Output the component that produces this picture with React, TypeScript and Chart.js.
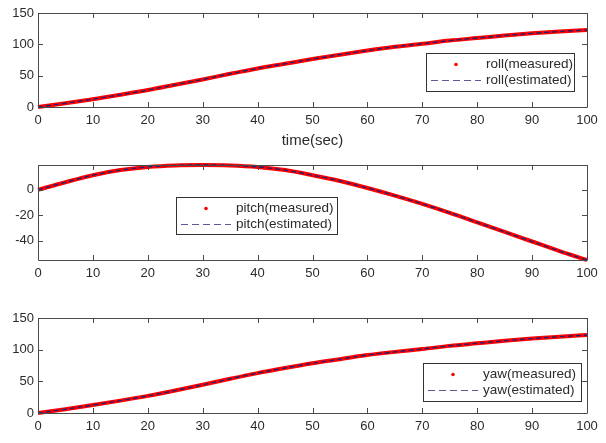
import React, { useEffect, useRef } from "react";
import { Chart, registerables } from "chart.js";

Chart.register(...registerables);
Chart.defaults.font.family = "'Liberation Sans', Arial, Helvetica, sans-serif";

// ---- data ----
const timeSec = [0, 5, 10, 15, 20, 25, 30, 35, 40, 45, 50, 55, 60, 65, 70, 75, 80, 85, 90, 95, 100];
const rollMeasured = [0, 6, 12.5, 19.5, 27, 35.5, 44, 53, 61.5, 69, 76.5, 83.5, 90, 96, 101, 106, 110, 114, 117.5, 120.5, 123];
const rollEstimated = [0, 6, 12.5, 19.5, 27, 35.5, 44, 53, 61.5, 69, 76.5, 83.5, 90, 96, 101, 106, 110, 114, 117.5, 120.5, 123];
const pitchMeasured = [0, 6, 11.5, 15.5, 18, 19.2, 19.5, 19.2, 18, 15.5, 11.5, 7, 1.5, -4.5, -11, -18, -25.5, -33, -40.5, -48, -55];
const pitchEstimated = [0, 6, 11.5, 15.5, 18, 19.2, 19.5, 19.2, 18, 15.5, 11.5, 7, 1.5, -4.5, -11, -18, -25.5, -33, -40.5, -48, -55];
const yawMeasured = [0, 6, 12.5, 19.5, 27, 35.5, 44.5, 54, 63, 71, 78.5, 85, 91.5, 96.5, 101, 106, 110, 114, 117.5, 120.5, 123];
const yawEstimated = [0, 6, 12.5, 19.5, 27, 35.5, 44.5, 54, 63, 71, 78.5, 85, 91.5, 96.5, 101, 106, 110, 114, 117.5, 120.5, 123];
const rollLabels = ["roll(measured)", "roll(estimated)"];
const pitchLabels = ["pitch(measured)", "pitch(estimated)"];
const yawLabels = ["yaw(measured)", "yaw(estimated)"];
const xAxisTitle = "time(sec)";

const AXIS_COLOR = "#4a4a4a";
const TEXT_COLOR = "#2b2b2b";
const RED = "#ff0000";
const NAVY = "#2a1f6e";

const framePlugin = {
  id: "matlabFrame",
  afterDraw(chart: any) {
    const { ctx, chartArea } = chart;
    const { left, right, top, bottom } = chartArea;
    const xs = chart.scales.x;
    const ys = chart.scales.y;
    const tl = 5;
    ctx.save();
    ctx.strokeStyle = AXIS_COLOR;
    ctx.lineWidth = 1;
    ctx.setLineDash([]);
    ctx.beginPath();
    ctx.rect(Math.round(left) + 0.5, Math.round(top) + 0.5, Math.round(right - left), Math.round(bottom - top));
    ctx.stroke();
    ctx.beginPath();
    xs.ticks.forEach((t: any) => {
      const px = Math.round(xs.getPixelForValue(t.value)) + 0.5;
      ctx.moveTo(px, bottom);
      ctx.lineTo(px, bottom - tl);
      ctx.moveTo(px, top);
      ctx.lineTo(px, top + tl);
    });
    ys.ticks.forEach((t: any) => {
      const py = Math.round(ys.getPixelForValue(t.value)) + 0.5;
      ctx.moveTo(left, py);
      ctx.lineTo(left + tl, py);
      ctx.moveTo(right, py);
      ctx.lineTo(right - tl, py);
    });
    ctx.stroke();

    // legend
    const lg = chart.options.plugins.matlabFrame;
    if (lg && lg.box) {
      const b = lg.box;
      ctx.fillStyle = "#ffffff";
      ctx.fillRect(b.x, b.y, b.w, b.h);
      ctx.strokeStyle = "#333333";
      ctx.lineWidth = 1;
      ctx.strokeRect(Math.round(b.x) + 0.5, Math.round(b.y) + 0.5, b.w, b.h);
      const r1 = b.y + 11.5;
      const r2 = b.y + 27.5;
      ctx.fillStyle = RED;
      ctx.beginPath();
      ctx.arc(b.x + 30, r1, 1.8, 0, Math.PI * 2);
      ctx.fill();
      ctx.strokeStyle = "#5a5a98";
      ctx.lineWidth = 1.2;
      ctx.setLineDash([7, 4]);
      ctx.beginPath();
      ctx.moveTo(b.x + 5, r2);
      ctx.lineTo(b.x + 55, r2);
      ctx.stroke();
      ctx.setLineDash([]);
      ctx.fillStyle = TEXT_COLOR;
      ctx.font = "13.5px 'Liberation Sans', Arial, sans-serif";
      ctx.textBaseline = "middle";
      ctx.textAlign = "left";
      ctx.fillText(lg.labels[0], b.x + 60, r1);
      ctx.fillText(lg.labels[1], b.x + 60, r2);
    }
    ctx.restore();
  },
};

type SubProps = {
  top: number;
  height: number;
  plotTop: number;
  plotBottom: number;
  measured: number[];
  estimated: number[];
  labels: string[];
  yMin: number;
  yMax: number;
  yStep: number;
  title?: string;
  box: { x: number; y: number; w: number; h: number };
};

function SubPlot(p: SubProps) {
  const ref = useRef<HTMLCanvasElement | null>(null);
  useEffect(() => {
    if (!ref.current) return;
    const chart = new Chart(ref.current, {
      type: "line",
      data: {
        datasets: [
          {
            label: p.labels[1],
            data: timeSec.map((t, i) => ({ x: t, y: p.estimated[i] })),
            borderColor: NAVY,
            borderWidth: 1.4,
            borderDash: [5, 3],
            pointRadius: 0,
            cubicInterpolationMode: "monotone",
            clip: false as any,
            order: 1,
          },
          {
            label: p.labels[0],
            data: timeSec.map((t, i) => ({ x: t, y: p.measured[i] })),
            borderColor: RED,
            borderWidth: 4,
            pointRadius: 0,
            cubicInterpolationMode: "monotone",
            clip: false as any,
            order: 2,
          },
        ],
      },
      options: {
        responsive: false,
        animation: false,
        layout: { padding: { top: p.plotTop, right: 19, left: 0, bottom: 0 } },
        plugins: {
          legend: { display: false },
          tooltip: { enabled: false },
          matlabFrame: { box: p.box, labels: p.labels },
        } as any,
        scales: {
          x: {
            type: "linear",
            min: 0,
            max: 100,
            grid: { display: false, drawTicks: false },
            border: { display: false },
            ticks: {
              stepSize: 10,
              padding: 6,
              maxRotation: 0,
              color: TEXT_COLOR,
              font: { size: 13 },
            },
            title: {
              display: !!p.title,
              text: p.title || "",
              color: TEXT_COLOR,
              font: { size: 15 },
              padding: { top: 0, bottom: 0 },
            },
            afterFit: (s: any) => {
              s.height = p.height - p.plotBottom;
            },
          },
          y: {
            type: "linear",
            min: p.yMin,
            max: p.yMax,
            grid: { display: false, drawTicks: false },
            border: { display: false },
            ticks: {
              stepSize: p.yStep,
              includeBounds: false,
              padding: 4,
              color: TEXT_COLOR,
              font: { size: 13 },
            },
            afterFit: (s: any) => {
              s.width = 38;
            },
          },
        },
      },
      plugins: [framePlugin],
    });
    return () => chart.destroy();
  }, []);
  return (
    <canvas
      ref={ref}
      width={606}
      height={p.height}
      style={{ position: "absolute", left: 0, top: p.top, width: 606, height: p.height }}
    />
  );
}

export default function App() {
  return (
    <div style={{ position: "absolute", left: 0, top: 0, width: 606, height: 443, background: "#ffffff", overflow: "hidden" }}>
      <SubPlot
        top={0}
        height={150}
        plotTop={13}
        plotBottom={107}
        measured={rollMeasured}
        estimated={rollEstimated}
        labels={rollLabels}
        yMin={0}
        yMax={150}
        yStep={50}
        title={xAxisTitle}
        box={{ x: 426, y: 53, w: 148, h: 38 }}
      />
      <SubPlot
        top={150}
        height={140}
        plotTop={15}
        plotBottom={110}
        measured={pitchMeasured}
        estimated={pitchEstimated}
        labels={pitchLabels}
        yMin={-55}
        yMax={19.5}
        yStep={20}
        box={{ x: 176, y: 47, w: 161, h: 37 }}
      />
      <SubPlot
        top={300}
        height={143}
        plotTop={18}
        plotBottom={113}
        measured={yawMeasured}
        estimated={yawEstimated}
        labels={yawLabels}
        yMin={0}
        yMax={150}
        yStep={50}
        box={{ x: 423, y: 63, w: 158, h: 38 }}
      />
    </div>
  );
}
